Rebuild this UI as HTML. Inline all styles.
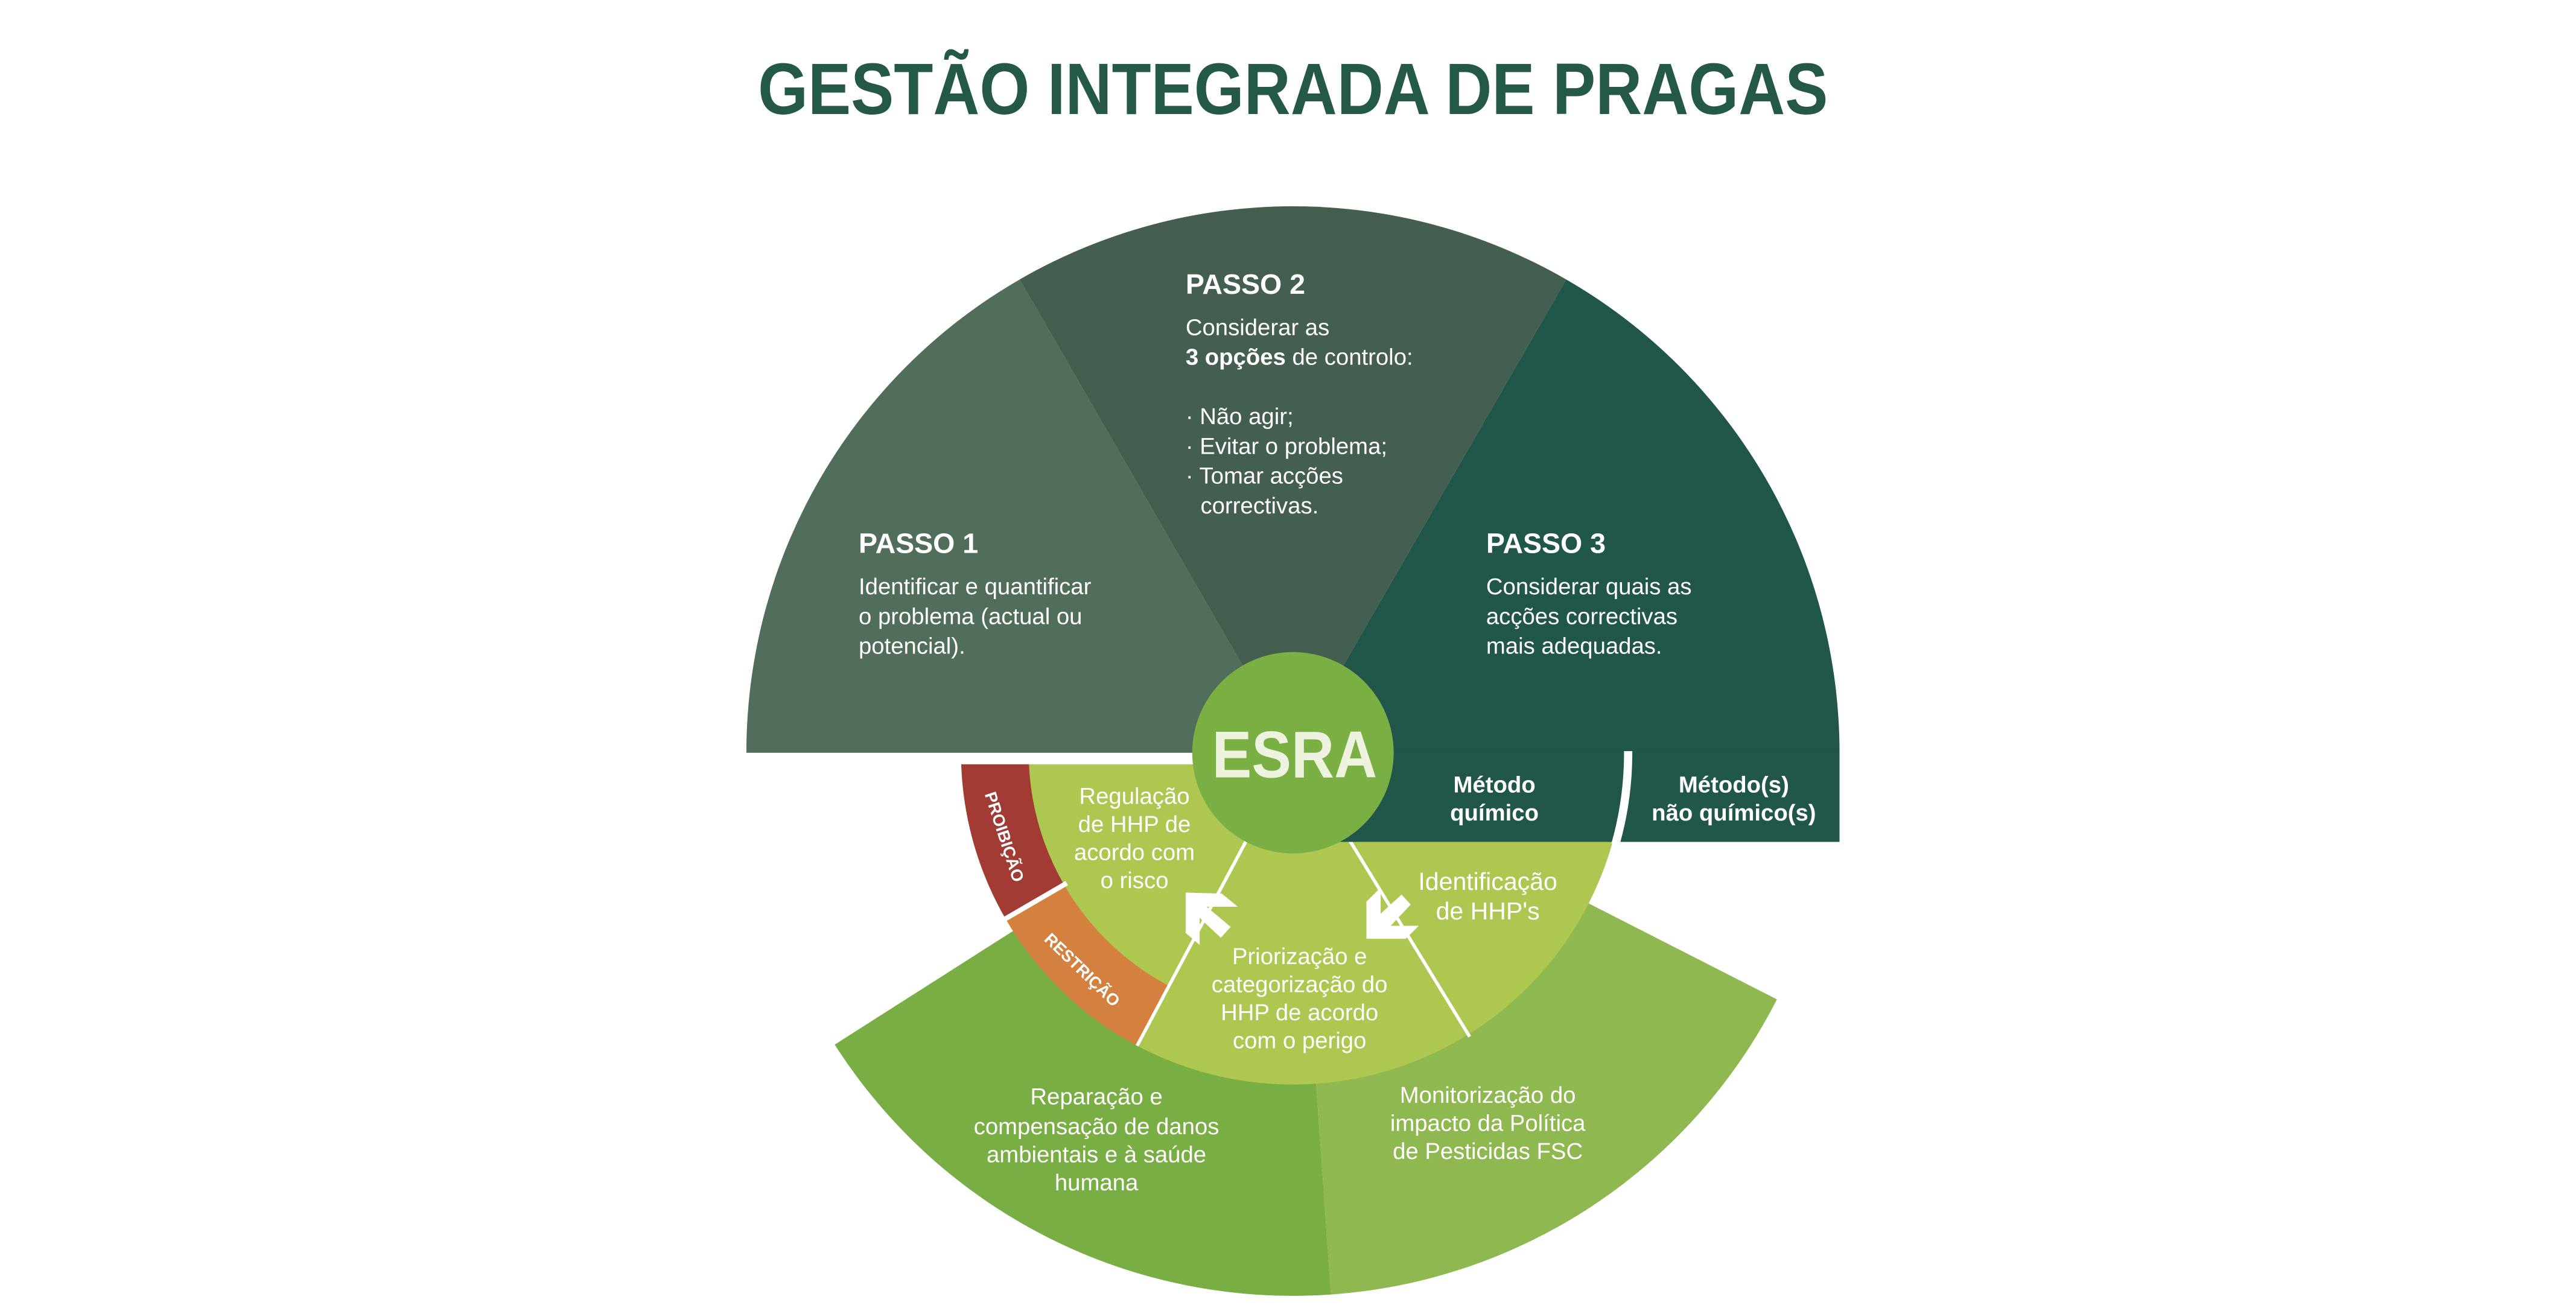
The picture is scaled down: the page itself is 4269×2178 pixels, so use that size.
<!DOCTYPE html>
<html><head><meta charset="utf-8"><style>
html,body{margin:0;padding:0;background:#fff;}
svg{display:block;}
text{font-family:"Liberation Sans",sans-serif;}
</style></head><body>
<svg width="4269" height="2178" viewBox="0 0 1560 796" preserveAspectRatio="none" xmlns="http://www.w3.org/2000/svg">
<defs>
<clipPath id="lg"><rect x="0" y="463" width="1560" height="400"/></clipPath>
<clipPath id="gap"><rect x="940" y="455" width="80" height="56"/></clipPath>
</defs>
<rect width="1560" height="796" fill="#fff"/>
<text x="783" y="69" text-anchor="middle" font-size="44" font-weight="bold" fill="#245a45" textLength="648" lengthAdjust="spacingAndGlyphs">GESTÃO INTEGRADA DE PRAGAS</text>

<path d="M783,456 L505.5,632.8 A329,329 0 0 0 806,784.2 Z" fill="#79ae45"/>
<path d="M783,456 L806,784.2 A329,329 0 0 0 1076.1,605.4 Z" fill="#8fb850"/>

<path d="M783,456 L452,456 A331,331 0 0 1 617.5,169.3 Z" fill="#516d5c"/>
<path d="M783,456 L617.5,169.3 A331,331 0 0 1 948.5,169.3 Z" fill="#445f4f"/>
<path d="M783,456 L948.5,169.3 A331,331 0 0 1 1114,456 Z" fill="#21574a"/>

<g clip-path="url(#lg)">
<circle cx="783" cy="456" r="201" fill="#adc751"/>
<path d="M582,456 A201,201 0 0 0 608.9,556.5 L644.4,536 A160,160 0 0 1 623,456 Z" fill="#a33b35"/>
<path d="M608.9,556.5 A201,201 0 0 0 688.6,633.5 L707.9,597.3 A160,160 0 0 1 644.4,536 Z" fill="#d4813f"/>
</g>
<line x1="646" y1="535" x2="603" y2="560" stroke="#fff" stroke-width="3"/>
<line x1="754.4" y1="509.9" x2="688.6" y2="633.5" stroke="#fff" stroke-width="2"/>
<line x1="816.2" y1="507.2" x2="890" y2="628" stroke="#fff" stroke-width="2"/>

<rect x="790" y="455" width="324" height="55" fill="#21574a"/>
<circle cx="783" cy="456" r="203" fill="none" stroke="#fff" stroke-width="5" clip-path="url(#gap)"/>

<polygon fill="#fff" points="718,540.7 739.9,541.3 749.6,549.3 730.7,549.3 745.3,561.5 739.3,568.1 726.5,556 726.5,572.4 718,565.1"/>
<polygon fill="#fff" points="827.5,568.7 827.5,546.2 836.1,537.7 836.1,553.5 848.8,541.9 854.3,548 842.2,560.8 859.2,560.8 851.3,568.7"/>

<circle cx="783" cy="456" r="61" fill="#7aaf43"/>
<text x="784" y="471" text-anchor="middle" font-size="40" font-weight="bold" fill="#eef3e0" textLength="100" lengthAdjust="spacingAndGlyphs">ESRA</text>

<g fill="#fff" font-size="14">
<text x="718" y="178" font-size="17" font-weight="bold">PASSO 2</text>
<text x="718" y="203">Considerar as</text>
<text x="718" y="221"><tspan font-weight="bold">3 opções</tspan> de controlo:</text>
<text x="718" y="257">· Não agir;</text>
<text x="718" y="275">· Evitar o problema;</text>
<text x="718" y="293">· Tomar acções</text>
<text x="727" y="311">correctivas.</text>

<text x="520" y="335" font-size="17" font-weight="bold">PASSO 1</text>
<text x="520" y="360">Identificar e quantificar</text>
<text x="520" y="378">o problema (actual ou</text>
<text x="520" y="396">potencial).</text>

<text x="900" y="335" font-size="17" font-weight="bold">PASSO 3</text>
<text x="900" y="360">Considerar quais as</text>
<text x="900" y="378">acções correctivas</text>
<text x="900" y="396">mais adequadas.</text>

<g text-anchor="middle" font-weight="bold">
<text x="905" y="480">Método</text>
<text x="905" y="497">químico</text>
<text x="1050" y="480">Método(s)</text>
<text x="1050" y="497">não químico(s)</text>
</g>
<g text-anchor="middle">
<text x="687" y="487">Regulação</text>
<text x="687" y="504">de HHP de</text>
<text x="687" y="521">acordo com</text>
<text x="687" y="538">o risco</text>
<text x="901" y="539" font-size="15">Identificação</text>
<text x="901" y="557" font-size="15">de HHP's</text>
<text x="787" y="584">Priorização e</text>
<text x="787" y="601">categorização do</text>
<text x="787" y="618">HHP de acordo</text>
<text x="787" y="635">com o perigo</text>
<text x="664" y="669">Reparação e</text>
<text x="664" y="687">compensação de danos</text>
<text x="664" y="704">ambientais e à saúde</text>
<text x="664" y="721">humana</text>
<text x="901" y="668">Monitorização do</text>
<text x="901" y="685">impacto da Política</text>
<text x="901" y="702">de Pesticidas FSC</text>
</g>
<text transform="translate(605,508) rotate(72)" text-anchor="middle" font-size="10" font-weight="bold">PROIBIÇÃO</text>
<text transform="translate(653,590) rotate(44)" text-anchor="middle" font-size="10" font-weight="bold">RESTRIÇÃO</text>
</g>
</svg>
</body></html>
